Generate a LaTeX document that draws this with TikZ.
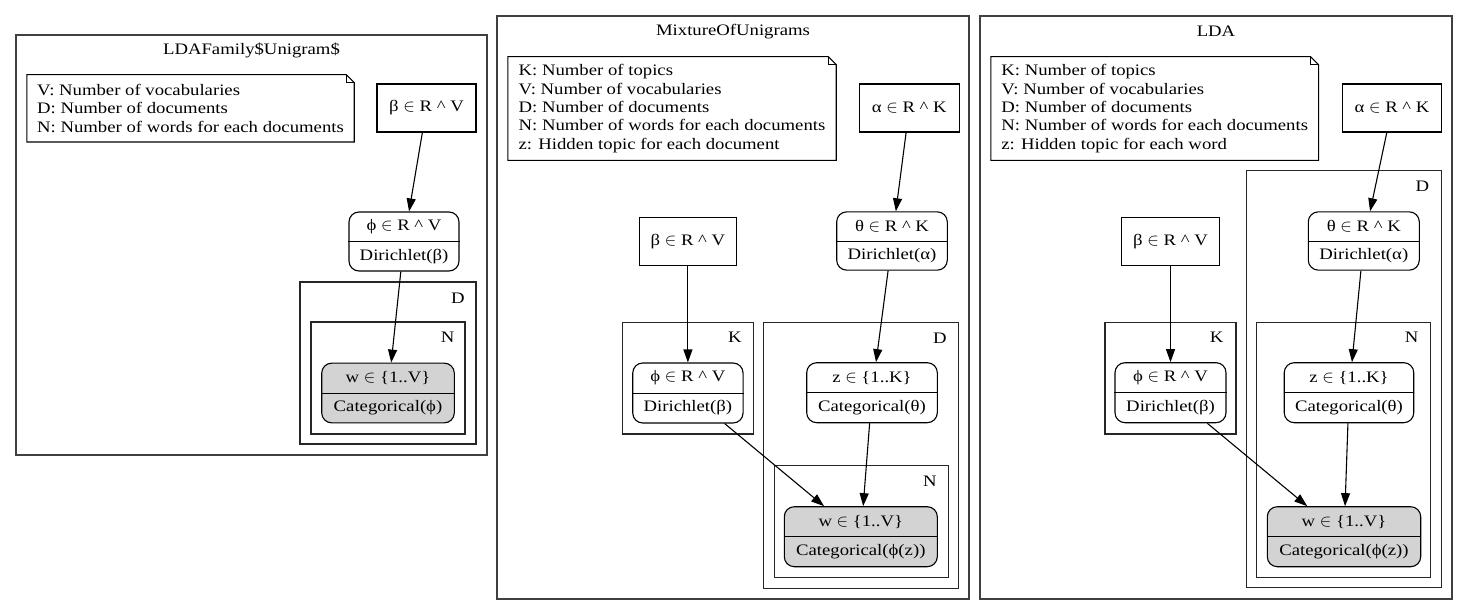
\documentclass[tikz,border=0pt]{standalone}
\usepackage{fontspec}
\setmainfont{Liberation Serif}[FakeStretch=1.17]
\usetikzlibrary{arrows.meta}
\definecolor{obsgray}{HTML}{D3D3D3}
\newcommand{\elemof}{{\fontsize{18.5}{18.5}\selectfont$\in$}}
\newcommand{\caretx}{\textasciicircum}
\newcommand{\recnode}[8]{%
  \node[#1, minimum width=#5pt, minimum height=#6pt] (#2) at (#3,#4) {};
  \draw[line width=1pt] (#2.west) -- (#2.east);
  \node (#2-top) at ([yshift=15pt]#2.center) {#7};
  \node (#2-bot) at ([yshift=-15pt]#2.center) {#8};
}
\newcommand{\notefold}[1]{%
  \draw[notel] (#1.north west) -- ([xshift=-8pt]#1.north east) -- ([yshift=-8pt]#1.north east) -- (#1.south east) -- (#1.south west) -- cycle;
  \draw[notel] ([xshift=-8pt]#1.north east) -- ([xshift=-8pt,yshift=-8pt]#1.north east) -- ([yshift=-8pt]#1.north east);
}
\begin{document}
\begin{tikzpicture}[x=1pt,y=-1pt,
  font=\fontsize{16}{18.3}\selectfont,
  outer/.style={draw=black!75, line width=1.5pt},
  plate/.style={draw=black!85, line width=1.3pt},
  box/.style={draw, line width=1.1pt, inner sep=0pt},
  rbox/.style={draw, line width=1.1pt, rounded corners=10pt, inner sep=0pt},
  obs/.style={rbox, fill=obsgray},
  note/.style={inner sep=0pt, align=left},
  notel/.style={line width=1.1pt},
  arr/.style={line width=1.1pt, -{Triangle[length=13pt,width=9pt]}}
]
\useasboundingbox[fill=white] (0,0) rectangle (1468,615);

% ---------------- Panel 1 ----------------
\draw[outer] (16,35) rectangle (487,455);
\node (t1) at (251.5,50) {LDAFamily\$Unigram\$};
\node[note, minimum width=327pt, minimum height=67pt] (n1) at (190.5,108.3)
  {V: Number of vocabularies\\D: Number of documents\\N: Number of words for each documents};
\notefold{n1}
\node[box, minimum width=99pt, minimum height=48pt] (b1) at (426.5,108) {β \elemof{} R \caretx{} V};
\recnode{rbox}{f1}{404}{241.5}{110}{59}{ϕ \elemof{} R \caretx{} V}{Dirichlet(β)}
\draw[plate] (300,282) rectangle (476,444);
\node (D1) at (458,298) {D};
\draw[plate] (311,322) rectangle (465,434);
\node (N1) at (447.7,337) {N};
\recnode{obs}{w1}{388}{393}{132.6}{59.7}{w \elemof{} \{1..V\}}{Categorical(ϕ)}
\draw[arr] (b1) -- (f1);
\draw[arr] (f1) -- (w1);

% ---------------- Panel 2 ----------------
\draw[outer] (497,16) rectangle (969,599);
\node (t2) at (733,31.7) {MixtureOfUnigrams};
\node[note, minimum width=328pt, minimum height=103.3pt] (n2) at (672,108.5)
  {K: Number of topics\\V: Number of vocabularies\\D: Number of documents\\N: Number of words for each documents\\z: Hidden topic for each document};
\notefold{n2}
\node[box, minimum width=100pt, minimum height=48pt] (a2) at (909.3,108) {α \elemof{} R \caretx{} K};
\recnode{rbox}{th2}{892}{241}{110.6}{58.3}{θ \elemof{} R \caretx{} K}{Dirichlet(α)}
\node[box, minimum width=97.7pt, minimum height=47.7pt] (b2) at (687.9,241.2) {β \elemof{} R \caretx{} V};
\draw[plate] (622.7,322.7) rectangle (753.3,434);
\node (K2) at (735,337.5) {K};
\recnode{rbox}{f2}{687.9}{393}{110.3}{60}{ϕ \elemof{} R \caretx{} V}{Dirichlet(β)}
\draw[plate] (763.3,322.7) rectangle (958.3,588.3);
\node (D2) at (940,338) {D};
\recnode{rbox}{z2}{872}{392.7}{130.6}{60}{z \elemof{} \{1..K\}}{Categorical(θ)}
\draw[plate] (774.3,465.7) rectangle (948.3,577.3);
\node (N2) at (930,481.7) {N};
\recnode{obs}{w2}{860.8}{536.7}{153}{60}{w \elemof{} \{1..V\}}{Categorical(ϕ(z))}
\draw[arr] (a2) -- (th2);
\draw[arr] (th2) -- (z2);
\draw[arr] (b2) -- (f2);
\draw[arr] (f2) -- (w2);
\draw[arr] (z2) -- (w2);

% ---------------- Panel 3 ----------------
\draw[outer] (980,16) rectangle (1452,599);
\node (t3) at (1216,31.7) {LDA};
\node[note, minimum width=327.3pt, minimum height=103.3pt] (n3) at (1154.7,108.5)
  {K: Number of topics\\V: Number of vocabularies\\D: Number of documents\\N: Number of words for each documents\\z: Hidden topic for each word};
\notefold{n3}
\node[box, minimum width=99.4pt, minimum height=48pt] (a3) at (1392,108) {α \elemof{} R \caretx{} K};
\draw[plate] (1246.7,170.7) rectangle (1441.7,587.3);
\node (D3) at (1422.3,186.7) {D};
\recnode{rbox}{th3}{1363.8}{241}{111}{58.3}{θ \elemof{} R \caretx{} K}{Dirichlet(α)}
\node[box, minimum width=97.6pt, minimum height=47.7pt] (b3) at (1170.5,241.2) {β \elemof{} R \caretx{} V};
\draw[plate] (1105,322.7) rectangle (1236,434);
\node (K3) at (1216.7,337.3) {K};
\recnode{rbox}{f3}{1170.5}{392.7}{111}{60}{ϕ \elemof{} R \caretx{} V}{Dirichlet(β)}
\draw[plate] (1256.7,322.7) rectangle (1430.7,577.3);
\node (N3) at (1411.7,337.3) {N};
\recnode{rbox}{z3}{1349}{392.7}{129.5}{60}{z \elemof{} \{1..K\}}{Categorical(θ)}
\recnode{obs}{w3}{1344}{536.7}{153.4}{60}{w \elemof{} \{1..V\}}{Categorical(ϕ(z))}
\draw[arr] (a3) -- (th3);
\draw[arr] (th3) -- (z3);
\draw[arr] (b3) -- (f3);
\draw[arr] (f3) -- (w3);
\draw[arr] (z3) -- (w3);
\end{tikzpicture}
\end{document}
